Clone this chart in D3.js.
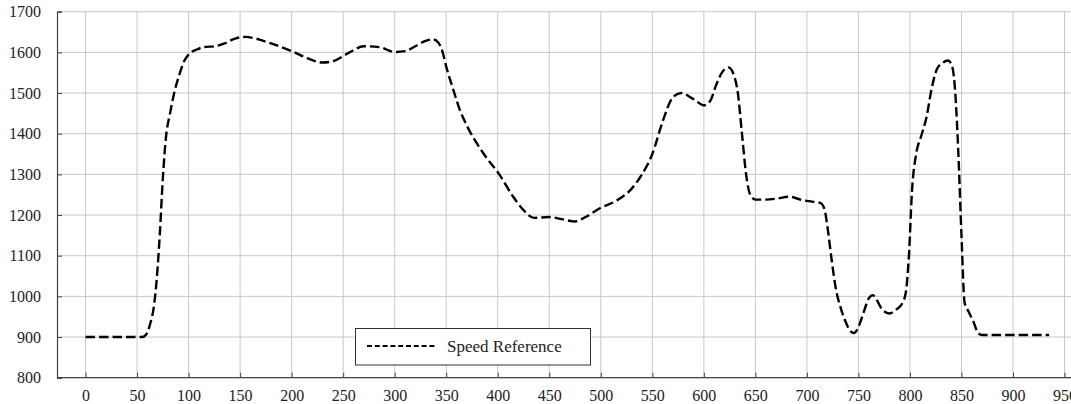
<!DOCTYPE html>
<html>
<head>
<meta charset="utf-8">
<script src="https://cdn.jsdelivr.net/npm/d3@7/dist/d3.min.js"></script>
<style>
  html, body { margin: 0; padding: 0; background: #fff; }
  svg { display: block; }
  text { font-family: "Liberation Serif", "DejaVu Serif", serif; fill: #222; }
</style>
</head>
<body>
<svg id="chart" width="1071" height="404"></svg>
<script>
// ---- data ----
const timeValues = [0, 20, 40, 55, 59, 63, 66, 69, 72, 75, 78, 82, 86, 91, 96, 100, 108, 115, 125, 135, 145, 155, 165, 180, 200, 215, 230, 240, 255, 270, 285, 300, 310, 320, 330, 337, 342, 346, 350, 357, 363, 370, 386, 402, 415, 425, 435, 450, 462, 475, 485, 500, 515, 530, 540, 550, 560, 570, 578, 590, 600, 606, 612, 618, 624, 629, 633, 637, 641, 645, 650, 660, 670, 683, 695, 705, 713, 717, 720, 724, 728, 733, 738, 742, 746, 750, 755, 760, 764, 768, 773, 780, 787, 793, 796, 799, 802, 806, 811, 816, 821, 826, 832, 837, 841, 844, 847, 850, 853, 857, 862, 866, 870, 900, 935];
const speedValues = [900, 900, 900, 900, 907, 935, 970, 1040, 1150, 1290, 1390, 1450, 1500, 1545, 1580, 1595, 1607, 1613, 1615, 1622, 1634, 1638, 1634, 1622, 1603, 1586, 1575, 1578, 1598, 1615, 1613, 1601, 1603, 1615, 1628, 1632, 1625, 1605, 1565, 1507, 1460, 1420, 1352, 1298, 1245, 1212, 1193, 1195, 1190, 1184, 1195, 1218, 1235, 1265, 1300, 1350, 1430, 1490, 1500, 1485, 1470, 1480, 1520, 1552, 1563, 1545, 1500, 1400, 1300, 1250, 1238, 1238, 1240, 1245, 1237, 1233, 1230, 1215, 1170, 1090, 1020, 970, 935, 915, 910, 925, 960, 995, 1003, 990, 968, 958, 968, 985, 1010, 1100, 1260, 1350, 1395, 1440, 1510, 1558, 1575, 1580, 1565, 1500, 1350, 1150, 985, 962, 935, 910, 905, 905, 905];
const xTicks = [0, 50, 100, 150, 200, 250, 300, 350, 400, 450, 500, 550, 600, 650, 700, 750, 800, 850, 900, 950];
const yTicks = [800, 900, 1000, 1100, 1200, 1300, 1400, 1500, 1600, 1700];
const seriesName = "Speed Reference";

// ---- layout ----
const svg = d3.select("#chart");
const plotLeft = 57, plotTop = 11.7, plotBottom = 377.7;
const x = d3.scaleLinear().domain([-27.7, 982]).range([plotLeft, 1097.5]);
const y = d3.scaleLinear().domain([800, 1700]).range([plotBottom, plotTop]);

const g = svg.append("g");

// grid
g.append("g").selectAll("line").data(xTicks).join("line")
  .attr("x1", d => x(d)).attr("x2", d => x(d))
  .attr("y1", plotTop).attr("y2", plotBottom)
  .attr("stroke", "#c8c8c8").attr("stroke-width", 1);
g.append("g").selectAll("line").data(yTicks).join("line")
  .attr("x1", plotLeft).attr("x2", 1071)
  .attr("y1", d => y(d)).attr("y2", d => y(d))
  .attr("stroke", "#c8c8c8").attr("stroke-width", 1);

// axes
const xAxis = d3.axisBottom(x).tickValues(xTicks).tickSize(-5).tickPadding(12).tickFormat(d3.format("d"));
const yAxis = d3.axisLeft(y).tickValues(yTicks).tickSize(-5).tickPadding(16).tickFormat(d3.format("d"));

const gx = g.append("g").attr("transform", `translate(0,${plotBottom})`).call(xAxis);
const gy = g.append("g").attr("transform", `translate(${plotLeft},0)`).call(yAxis);
[gx, gy].forEach(a => {
  a.attr("font-family", "Liberation Serif, DejaVu Serif, serif").attr("font-size", 16);
  a.select(".domain").attr("stroke", "#444").attr("stroke-width", 1.2);
  a.selectAll(".tick line").attr("stroke", "#444");
  a.selectAll(".tick text").attr("font-size", "16px").attr("fill", "#222")
    .style("font-family", "'Liberation Serif', 'DejaVu Serif', serif");
});
gx.select(".domain").attr("d", `M${plotLeft},0H1071`);

// line
const data = timeValues.map((t, i) => ({t, v: speedValues[i]}));
const line = d3.line().x(d => x(d.t)).y(d => y(d.v)).curve(d3.curveMonotoneX);
g.append("path").datum(data)
  .attr("d", line)
  .attr("fill", "none")
  .attr("stroke", "#000")
  .attr("stroke-width", 2.4)
  .attr("stroke-dasharray", "9.5,4");

// legend
const lg = g.append("g");
lg.append("rect").attr("x", 355.5).attr("y", 328.5).attr("width", 235).attr("height", 36.5)
  .attr("fill", "#fff").attr("stroke", "#333").attr("stroke-width", 1);
lg.append("line").attr("x1", 367).attr("x2", 437).attr("y1", 346).attr("y2", 346)
  .attr("stroke", "#000").attr("stroke-width", 2).attr("stroke-dasharray", "5,2.8");
lg.append("text").attr("x", 447).attr("y", 351.5).attr("font-size", "17px").text(seriesName);
</script>
</body>
</html>
